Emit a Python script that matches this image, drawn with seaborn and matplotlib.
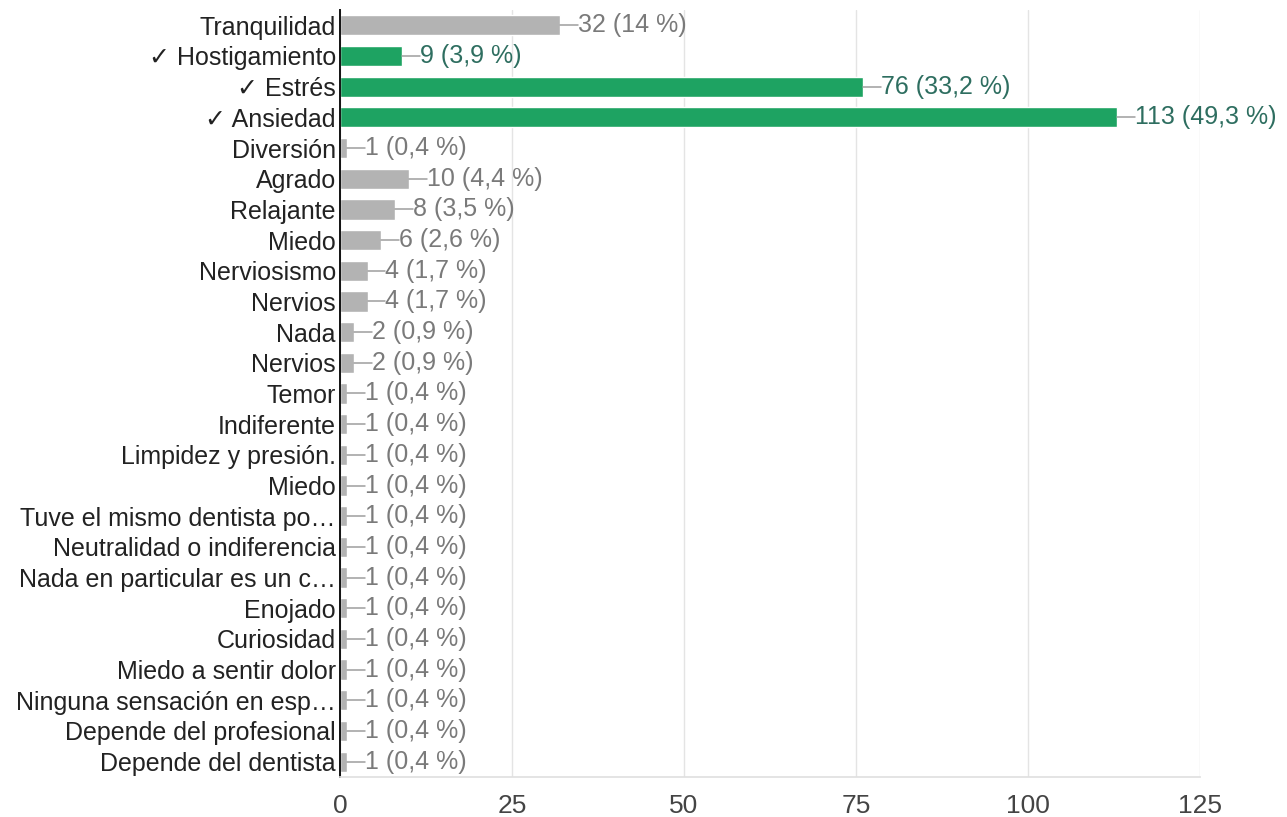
import matplotlib
matplotlib.use("Agg")
import matplotlib.pyplot as plt
import seaborn as sns
import pandas as pd

categories = [
    "Tranquilidad", "✓ Hostigamiento", "✓ Estrés", "✓ Ansiedad", "Diversión",
    "Agrado", "Relajante", "Miedo", "Nerviosismo", "Nervios", "Nada", "Nervios",
    "Temor", "Indiferente", "Limpidez y presión.", "Miedo",
    "Tuve el mismo dentista po…", "Neutralidad o indiferencia",
    "Nada en particular es un c…", "Enojado", "Curiosidad",
    "Miedo a sentir dolor", "Ninguna sensación en esp…",
    "Depende del profesional", "Depende del dentista",
]
counts = [32, 9, 76, 113, 1, 10, 8, 6, 4, 4, 2, 2, 1, 1, 1, 1, 1, 1, 1, 1, 1, 1, 1, 1, 1]
percents = ["14", "3,9", "33,2", "49,3", "0,4", "4,4", "3,5", "2,6", "1,7", "1,7",
            "0,9", "0,9", "0,4", "0,4", "0,4", "0,4", "0,4", "0,4", "0,4", "0,4",
            "0,4", "0,4", "0,4", "0,4", "0,4"]
correct = [False, True, True, True] + [False] * 21
x_ticks = [0, 25, 50, 75, 100, 125]

GREEN = "#1ea362"
GREY = "#b3b3b3"
FS = 18

sns.set_theme(style="white")
plt.rcParams["font.family"] = ["Liberation Sans", "DejaVu Sans"]

df = pd.DataFrame({
    "row": [str(i) for i in range(len(categories))],
    "count": counts,
    "kind": ["ok" if c else "other" for c in correct],
})

fig = plt.figure(figsize=(12.87, 8.17), dpi=100)
ax = fig.add_axes([0.2642, 0.049, 0.9324 - 0.2642, 0.9878 - 0.049])

sns.barplot(data=df, x="count", y="row", hue="kind", orient="h",
            palette={"ok": GREEN, "other": GREY}, dodge=False,
            width=0.66, legend=False, ax=ax, saturation=1)

ax.set_xlim(0, 125)
ax.set_ylim(len(categories) - 0.5, -0.5)
ax.set_xticks(x_ticks)
ax.set_xticklabels([str(t) for t in x_ticks], fontsize=FS + 1, color="#444444")
ax.set_yticks(range(len(categories)))
ax.set_yticklabels(categories, fontsize=FS, color="#222222")
ax.tick_params(axis="both", length=0)
ax.tick_params(axis="x", pad=12)
ax.tick_params(axis="y", pad=3)
ax.set_xlabel("")
ax.set_ylabel("")

ax.xaxis.grid(True, color="#e4e4e4", linewidth=1)
ax.set_axisbelow(True)
for side in ["top", "right"]:
    ax.spines[side].set_visible(False)
ax.spines["bottom"].set_color("#e0e0e0")
ax.spines["left"].set_color("#111111")
ax.spines["left"].set_linewidth(1.4)

# value labels with short leader lines
for i, (c, p, ok) in enumerate(zip(counts, percents, correct)):
    lead = 2.6
    ax.plot([c, c + lead], [i, i], color="#9e9e9e", linewidth=1.1, zorder=3)
    ax.text(c + lead, i, f"{c} ({p} %)", va="center", ha="left", fontsize=FS,
            color="#2e6e60" if ok else "#7a7a7a")

fig.savefig("out.png", dpi=100)
